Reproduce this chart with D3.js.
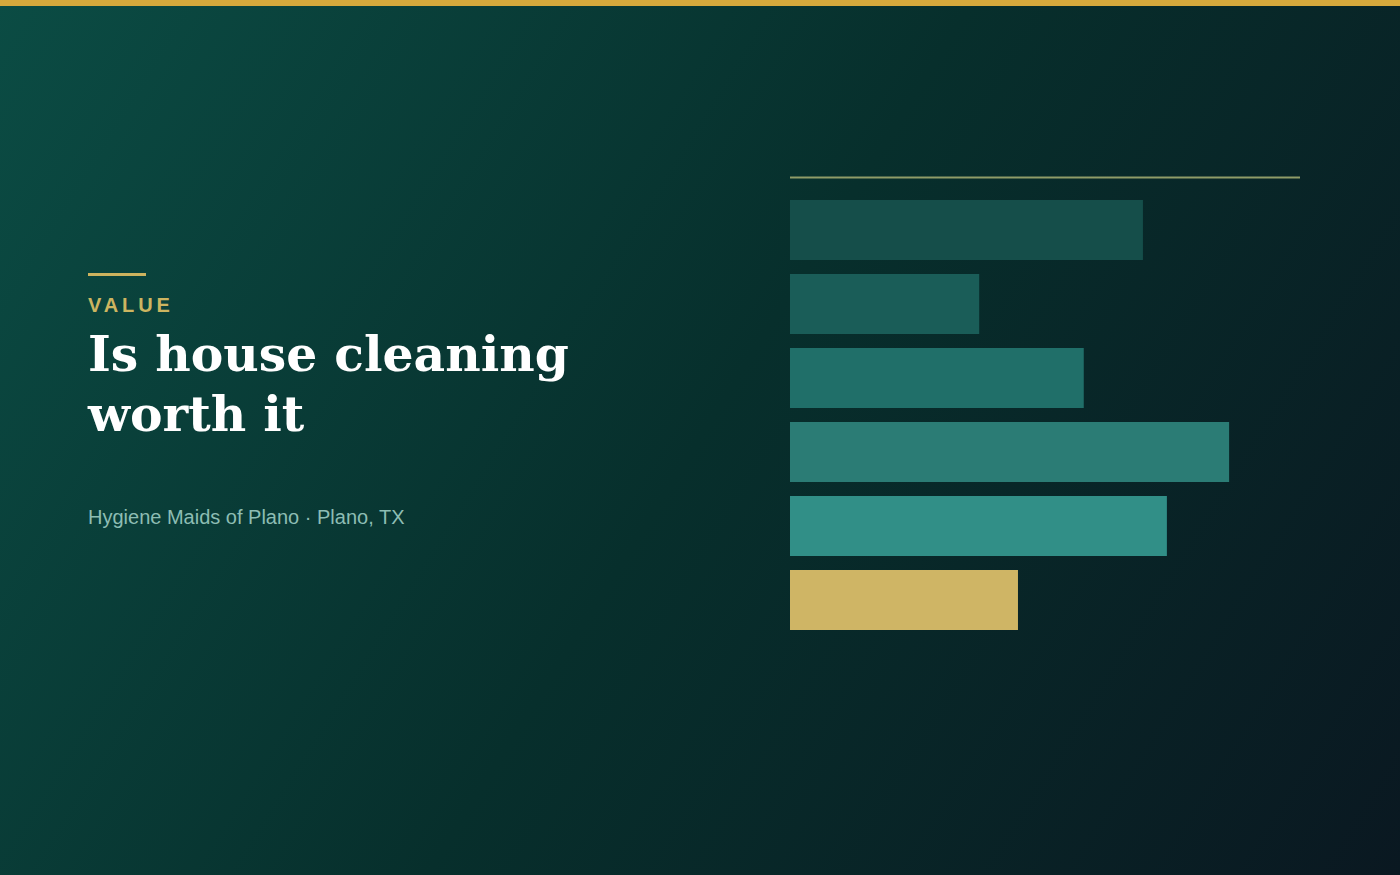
<!DOCTYPE html>
<html>
<head>
<meta charset="utf-8">
<script src="https://cdn.jsdelivr.net/npm/d3@7"></script>
<style>
html,body{margin:0;padding:0;width:1400px;height:875px;overflow:hidden;background:#07302d;}
svg{display:block;}
</style>
</head>
<body>
<svg id="chart" width="1400" height="875"></svg>
<script>
// Data
const categories = ["Factor A", "Factor B", "Factor C", "Factor D", "Factor E", "Factor F"];
const values = [69.2, 37.1, 57.6, 86.1, 73.9, 44.7];
const barColors = ["#154e4a", "#1a5d58", "#206f69", "#2b7c75", "#318f87", "#cfb565"];
const eyebrow = "VALUE";
const titleLines = ["Is house cleaning", "worth it"];
const subtitle = "Hygiene Maids of Plano \u00B7 Plano, TX";

const svg = d3.select("#chart");
const W = 1400, H = 875;

const defs = svg.append("defs");
const grad = defs.append("linearGradient").attr("id", "bg")
  .attr("gradientUnits", "userSpaceOnUse")
  .attr("x1", 0).attr("y1", 0).attr("x2", 1400).attr("y2", 875);
grad.append("stop").attr("offset", "0%").attr("stop-color", "#0b4c44");
grad.append("stop").attr("offset", "50%").attr("stop-color", "#072f2c");
grad.append("stop").attr("offset", "100%").attr("stop-color", "#0a1821");

svg.append("rect").attr("width", W).attr("height", H).attr("fill", "url(#bg)");
svg.append("rect").attr("width", W).attr("height", 6).attr("fill", "#d6a93c");

// Left text block
svg.append("rect").attr("x", 88).attr("y", 273).attr("width", 58).attr("height", 3).attr("fill", "#cdb35e");
svg.append("text").attr("x", 88).attr("y", 312)
  .attr("font-family", "Liberation Sans, Arial, sans-serif").attr("font-weight", 700)
  .attr("font-size", 20).attr("letter-spacing", "3.9px").attr("fill", "#cdb560")
  .text(eyebrow);
const title = svg.append("text")
  .attr("font-family", "'DejaVu Serif', Georgia, serif").attr("font-weight", 700)
  .attr("font-size", 52).attr("fill", "#ffffff");
const tspans = titleLines.map((t, i) =>
  title.append("tspan").attr("x", 88).attr("y", 371 + i * 60).text(t));
// fit first line to reference width (~481px)
const w0 = tspans[0].node().getComputedTextLength();
if (w0 > 0) title.attr("font-size", Math.min(60, 52 * 481 / w0));

svg.append("text").attr("x", 88).attr("y", 524)
  .attr("font-family", "Liberation Sans, Arial, sans-serif")
  .attr("font-size", 20).attr("fill", "#8dbdb3")
  .text(subtitle);

// Bars
const x = d3.scaleLinear().domain([0, 100]).range([790, 1300]);
const y = d3.scaleBand().domain(categories).range([200, 630]).paddingInner(14 / 74).paddingOuter(0);

svg.append("line").attr("x1", x(0)).attr("x2", x(100)).attr("y1", 177.5).attr("y2", 177.5)
  .attr("stroke", "#8f9c68").attr("stroke-width", 2);

svg.append("g").selectAll("rect").data(categories).join("rect")
  .attr("x", x(0))
  .attr("y", d => y(d))
  .attr("width", (d, i) => x(values[i]) - x(0))
  .attr("height", y.bandwidth())
  .attr("fill", (d, i) => barColors[i]);
</script>
</body>
</html>
